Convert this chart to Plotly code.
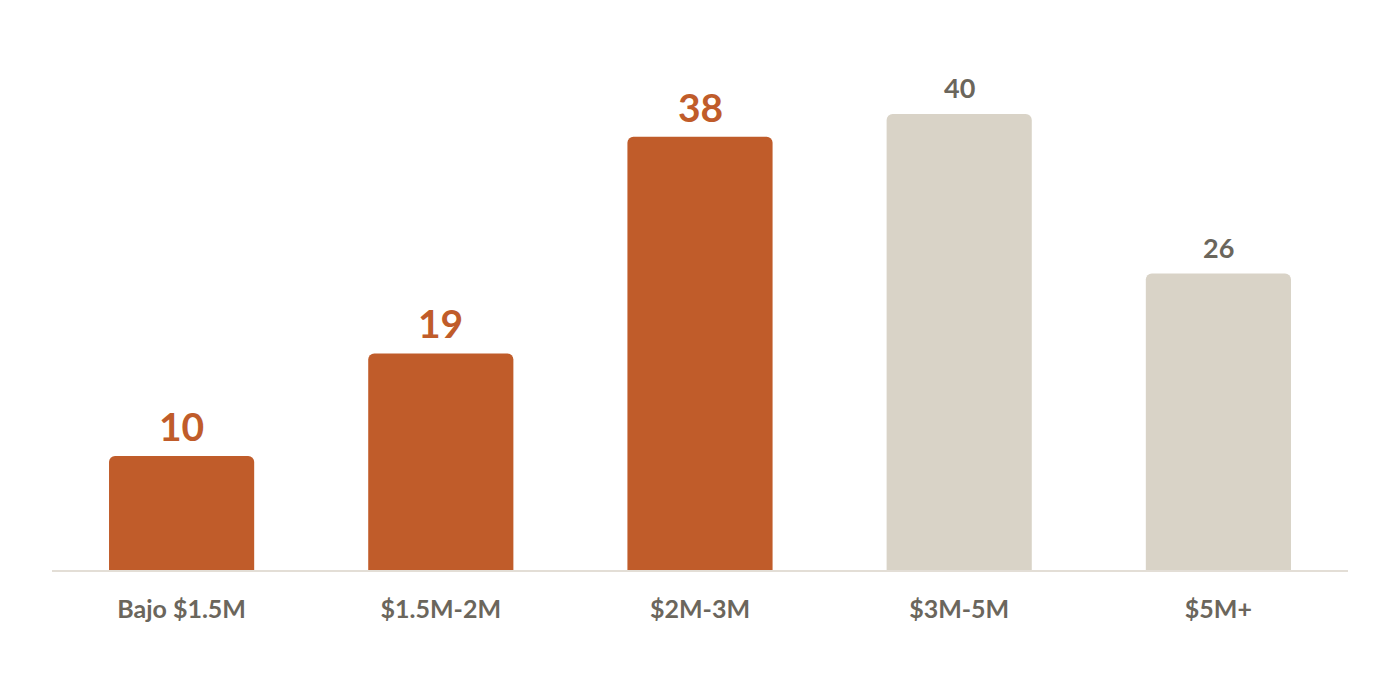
import plotly.graph_objects as go

categories = ["Bajo $1.5M", "$1.5M-2M", "$2M-3M", "$3M-5M", "$5M+"]
values = [10, 19, 38, 40, 26]
highlight = [True, True, True, False, False]

ORANGE = "#C05C2A"
BEIGE = "#D9D3C7"
GREY_TXT = "#6B665C"
FONT = "Lato"

bar_colors = [ORANGE if h else BEIGE for h in highlight]

fig = go.Figure(go.Bar(
    x=categories, y=values, marker=dict(color=bar_colors, line=dict(width=0)),
    hoverinfo="skip",
))

for c, v, h in zip(categories, values, highlight):
    fig.add_annotation(
        x=c, y=v, text=str(v), showarrow=False, yanchor="bottom", yshift=5 if h else 8,
        font=dict(family=FONT, size=39 if h else 27, color=ORANGE if h else GREY_TXT, weight=700),
    )

fig.update_layout(
    width=1400, height=687,
    margin=dict(l=52, r=52, t=60, b=117),
    paper_bgcolor="white", plot_bgcolor="white",
    bargap=0.44, barcornerradius=6,
    showlegend=False,
    xaxis=dict(
        showgrid=False, showline=True, linecolor="#E3DED6", linewidth=2,
        ticks="", tickfont=dict(family=FONT, size=25, color=GREY_TXT, weight=700),
        ticklabelstandoff=16,
    ),
    yaxis=dict(range=[0, 510 / 11.4], visible=False, showgrid=False, zeroline=False),
)

fig.write_html("out.html")
